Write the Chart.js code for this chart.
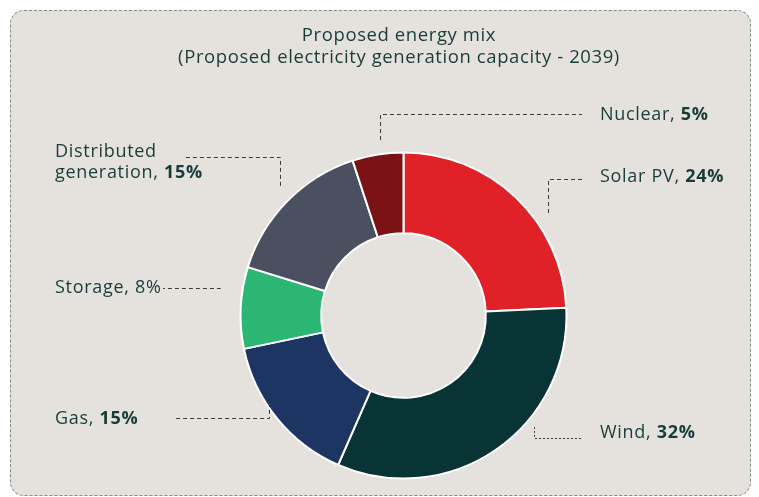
<!DOCTYPE html>
<html>
<head>
<meta charset="utf-8">
<script src="https://cdn.jsdelivr.net/npm/chart.js@4/dist/chart.umd.min.js"></script>
<style>
  html, body { margin: 0; padding: 0; background: #fff; }
  #wrap { position: relative; width: 759px; height: 497px; overflow: hidden; }
  #panel {
    position: absolute; left: 10px; top: 10px; width: 739px; height: 484px;
    background: #e5e2dd; border: 1px dashed #7f8e8b; border-radius: 14px;
  }
  #mychart { position: absolute; left: 0; top: 0; }
</style>
</head>
<body>
<div id="wrap">
  <div id="panel"></div>
  <canvas id="mychart" width="759" height="497"></canvas>
</div>
<script>
const titleLines = ["Proposed energy mix", "(Proposed electricity generation capacity - 2039)"];
const categories = ["Solar PV", "Wind", "Gas", "Storage", "Distributed generation", "Nuclear"];
const shares = [24, 32, 15, 8, 15, 5];
const sliceColors = ["#e02228", "#083436", "#1d3563", "#2bb673", "#4a5060", "#7b1315"];

const textColor = "#183c3a";
const fontFamily = "'Open Sans', 'Noto Sans', sans-serif";

// where each callout sits and how its leader line runs
const callouts = [
  { x: 600, y: 177, ly: 179, lineX: 582, angle: 54.6, dr: 14, bold: true },
  { x: 600, y: 433, ly: 438, lineX: 582, angle: 130.5, dr: 8.6, bold: true, dotted: true },
  { x: 55, y: 419, ly: 418, lineX: 174, angle: 236.9, dr: -3, bold: true },
  { x: 55, y: 288, ly: 288, lineX: 163, angle: 278.5, dr: 22.5, bold: false },
  { x: 55, y: 152, ly: 157, lineX: 183, angle: -43.6, dr: 16, bold: true, wrap: ["Distributed", "generation"] },
  { x: 600, y: 115, ly: 114, lineX: 582, angle: -7.6, dr: 14, bold: true }
];

const calloutPlugin = {
  id: "callouts",
  afterDraw(chart) {
    const ctx = chart.ctx;
    const arc = chart.getDatasetMeta(0).data[0];
    const cx = arc.x, cy = arc.y, R = arc.outerRadius;

    ctx.save();
    // title
    ctx.fillStyle = textColor;
    ctx.textAlign = "center";
    ctx.textBaseline = "middle";
    ctx.font = "18.5px " + fontFamily;
    ctx.letterSpacing = "0.6px";
    ctx.fillText(titleLines[0], 399, 36);
    ctx.fillText(titleLines[1], 399, 58);

    callouts.forEach((c, i) => {
      const a = c.angle * Math.PI / 180;
      const ex = cx + (R + c.dr) * Math.sin(a);
      const ey = cy - (R + c.dr) * Math.cos(a);
      ctx.beginPath();
      ctx.strokeStyle = "#3a3a3a";
      ctx.lineWidth = 1;
      ctx.setLineDash(c.dotted ? [2, 2] : [4, 3]);
      ctx.moveTo(Math.round(ex) + 0.5, ey);
      ctx.lineTo(Math.round(ex) + 0.5, c.ly + 0.5);
      ctx.lineTo(c.lineX, c.ly + 0.5);
      ctx.stroke();
      ctx.setLineDash([]);

      const lines = c.wrap ? c.wrap.slice() : [categories[i]];
      const pct = shares[i] + "%";
      ctx.textAlign = "left";
      ctx.textBaseline = "middle";
      ctx.letterSpacing = "0.7px";
      lines.forEach((ln, k) => {
        const y = c.y + k * 21;
        ctx.font = "18px " + fontFamily;
        if (k < lines.length - 1) {
          ctx.fillText(ln, c.x, y);
          return;
        }
        const head = ln + ", ";
        ctx.fillText(head, c.x, y);
        const w = ctx.measureText(head).width;
        ctx.font = (c.bold ? "bold " : "") + "18px " + fontFamily;
        ctx.fillText(pct, c.x + w, y);
      });
    });
    ctx.restore();
  }
};

new Chart("mychart", {
  type: "doughnut",
  data: {
    labels: categories,
    datasets: [{
      data: shares,
      backgroundColor: sliceColors,
      borderColor: "#ffffff",
      borderWidth: 2
    }]
  },
  options: {
    responsive: false,
    animation: false,
    cutout: "50.5%",
    layout: { padding: { left: 239.5, right: 191.5, top: 151.5, bottom: 17.5 } },
    plugins: {
      legend: { display: false },
      tooltip: { enabled: false },
      title: { display: false }
    }
  },
  plugins: [calloutPlugin]
});
</script>
</body>
</html>
